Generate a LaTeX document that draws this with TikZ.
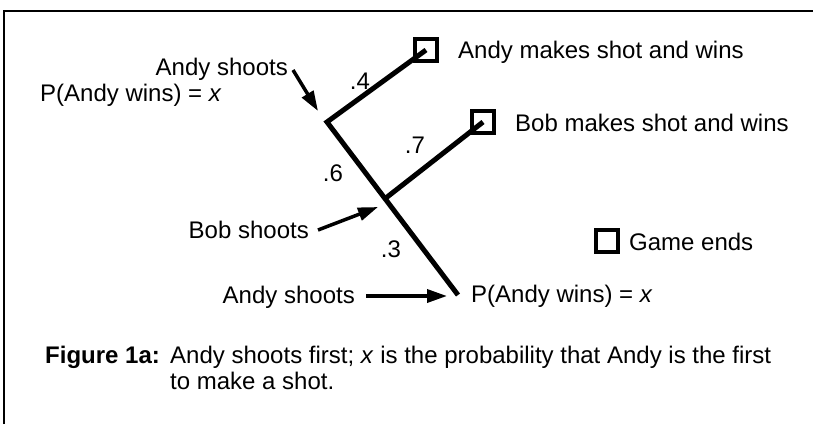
\documentclass[tikz,border=0pt]{standalone}
\usepackage{fontspec}
\setmainfont{Liberation Sans}
\usetikzlibrary{arrows.meta,calc}
\begin{document}
\begin{tikzpicture}[x=1pt,y=-1pt,
  txt/.style={inner sep=0pt, font=\fontsize{24}{28}\selectfont},
  branch/.style={line width=5pt, line join=miter},
  endbox/.style={draw, line width=4pt, minimum size=22pt, inner sep=0pt},
  pointer/.style={line width=3.5pt, -{Triangle[length=20pt,width=13pt]}},
  frameline/.style={line width=1.8pt}]
\useasboundingbox (0,0) rectangle (813,424);
% frame
\coordinate (fbl) at (4,424);
\coordinate (ftl) at (4,11);
\coordinate (ftr) at (813,11);
\draw[frameline] (fbl) -- (ftl) -- (ftr);
% tree points
\coordinate (A) at (327,122);
\coordinate (E) at (458,295);
\coordinate (B) at ($(A)!0.443!(E)$);
\node[endbox] (s1) at (426,50) {};
\node[endbox] (s2) at (483,122) {};
\node[endbox] (sg) at (607,241) {};
\draw[branch] (s1.center) -- (A) -- (E);
\draw[branch] (B) -- (s2.center);
% end labels
\node[txt, anchor=base west] (t1) at (458,58) {Andy makes shot and wins};
\node[txt, anchor=base west] (t2) at (515,131) {Bob makes shot and wins};
\node[txt, anchor=base west] (tg) at (629,250) {Game ends};
% probabilities
\node[txt, anchor=base] (p4) at (360,89) {.4};
\node[txt, anchor=base] (p7) at (415,153) {.7};
\node[txt, anchor=base] (p6) at (333,181) {.6};
\node[txt, anchor=base] (p3) at (391,257) {.3};
% formulas
\node[txt, anchor=base west] (pl) at (40,101) {P(Andy wins) = \textit{x}};
\node[txt, anchor=base west] (pr) at (471,302) {P(Andy wins) = \textit{x}};
% shooters
\node[txt, anchor=base east] (la) at (288,75) {Andy shoots};
\coordinate (la1) at (293,70);
\coordinate (la2) at (318,111);
\draw[pointer] (la1) -- (la2);
\node[txt, anchor=base east] (lb) at (309,238) {Bob shoots};
\coordinate (lb1) at (318,230);
\coordinate (lb2) at (378,207);
\draw[pointer] (lb1) -- (lb2);
\node[txt, anchor=base east] (lc) at (355,303) {Andy shoots};
\coordinate (lc1) at (366,296);
\coordinate (lc2) at (447,296);
\draw[pointer] (lc1) -- (lc2);
% caption
\node[txt, anchor=base west, font=\fontsize{24}{28}\selectfont\bfseries] (cf) at (45,363) {Figure 1a:};
\node[txt, anchor=base west] (c1) at (170,363) {Andy shoots first; \textit{x} is the probability that Andy is the first};
\node[txt, anchor=base west] (c2) at (170,389) {to make a shot.};
\end{tikzpicture}
\end{document}
